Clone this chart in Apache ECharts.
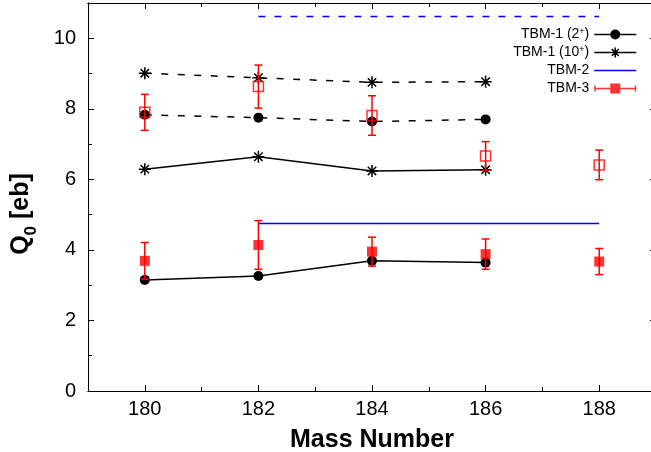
<!DOCTYPE html>
<html>
<head>
<meta charset="utf-8">
<script src="https://cdn.jsdelivr.net/npm/echarts@6/dist/echarts.min.js"></script>
<style>html,body{margin:0;padding:0;background:#fff}#c{width:651px;height:452px}</style>
</head>
<body>
<div id="c"></div>
<script>
// ---- data ----
const massNumbers = [180, 182, 184, 186];
const tbm1_2p_low = [3.15, 3.26, 3.69, 3.64];     // TBM-1 (2+) solid
const tbm1_2p_high = [7.83, 7.75, 7.64, 7.70];    // TBM-1 (2+) dashed
const tbm1_10p_low = [6.29, 6.64, 6.24, 6.27];    // TBM-1 (10+) solid
const tbm1_10p_high = [9.01, 8.88, 8.75, 8.77];   // TBM-1 (10+) dashed
const tbm2Mass = [182, 188];
const tbm2_low = [4.75, 4.75];
const tbm2_high = [10.62, 10.62];
const tbm3Mass = [180, 182, 184, 186, 188];
const tbm3_filled = [3.69, 4.14, 3.95, 3.88, 3.67];
const tbm3_filledErr = [0.52, 0.69, 0.41, 0.43, 0.37];
const tbm3_open = [7.90, 8.63, 7.81, 6.66, 6.41];
const tbm3_openErr = [0.51, 0.61, 0.56, 0.41, 0.42];
const xMajor = [180, 182, 184, 186, 188];
const xMinor = [181, 183, 185, 187];
const yMajor = [0, 2, 4, 6, 8, 10];
const yMinor = [1, 3, 5, 7, 9];

const pair = (xs, ys) => xs.map((x, i) => [x, ys[i]]);
const errData = (xs, ys, es) => xs.map((x, i) => [x, ys[i], ys[i] - es[i], ys[i] + es[i]]);

const FONT = '"Liberation Sans", Arial, Helvetica, sans-serif';
const star = 'path://M0,5H10M5,0V10M1.5,1.5L8.5,8.5M8.5,1.5L1.5,8.5';
const iconCircle = 'path://M0,4.25H16V5.75H0Z M26,4.25H42V5.75H26Z M16,5A5,5 0 1,1 26,5A5,5 0 1,1 16,5Z';
const iconStar = 'path://M0,5H42M15.5,5H26.5M21,0V10M17.5,1.5L24.5,8.5M24.5,1.5L17.5,8.5';
const iconLine = 'path://M0,4.25H42V5.75H0Z M0,0H0.01V10H0Z';
const iconTbm3 = 'path://M0,4.25H42V5.75H0Z M0,2H1.5V8H0Z M40.5,2H42V8H40.5Z M16,0H26V10H16Z';

function errorBar(color) {
  return function (params, api) {
    const x = api.value(0);
    const p1 = api.coord([x, api.value(3)]);
    const p2 = api.coord([x, api.value(2)]);
    const hw = 4;
    const st = { stroke: color, lineWidth: 1.5 };
    return {
      type: 'group',
      children: [
        { type: 'line', shape: { x1: p1[0], y1: p1[1], x2: p2[0], y2: p2[1] }, style: st },
        { type: 'line', shape: { x1: p1[0] - hw, y1: p1[1], x2: p1[0] + hw, y2: p1[1] }, style: st },
        { type: 'line', shape: { x1: p2[0] - hw, y1: p2[1], x2: p2[0] + hw, y2: p2[1] }, style: st }
      ]
    };
  };
}

function xAx(pos, vals, len, labels) {
  return {
    type: 'value', min: 179, max: 189, position: pos,
    axisLine: { show: true, onZero: false, lineStyle: { color: '#000', width: 1 } },
    axisTick: { show: true, inside: true, length: len, customValues: vals, lineStyle: { color: '#000', width: 1 } },
    axisLabel: { show: labels, customValues: vals, color: '#000', fontSize: 20, fontFamily: FONT, margin: 8 },
    splitLine: { show: false }
  };
}
function yAx(pos, vals, len, labels) {
  return {
    type: 'value', min: 0, max: 11, position: pos,
    axisLine: { show: true, onZero: false, lineStyle: { color: '#000', width: 1 } },
    axisTick: { show: true, inside: true, length: len, customValues: vals, lineStyle: { color: '#000', width: 1 } },
    axisLabel: { show: labels, customValues: vals, color: '#000', fontSize: 20, fontFamily: FONT, margin: 12 },
    splitLine: { show: false }
  };
}

const xAxes = [xAx('bottom', xMajor, 6, true), xAx('bottom', xMinor, 4, false), xAx('top', xMajor, 6, false), xAx('top', xMinor, 4, false)];
xAxes[0].name = 'Mass Number';
xAxes[0].nameLocation = 'middle';
xAxes[0].nameGap = 37;
xAxes[0].nameTextStyle = { fontSize: 25, fontWeight: 'bold', color: '#000', fontFamily: FONT };

const chart = echarts.init(document.getElementById('c'), null, { renderer: 'canvas' });
chart.setOption({
  animation: false,
  backgroundColor: '#fff',
  grid: { left: 88, top: 3, width: 568, height: 388, containLabel: false, outerBoundsMode: 'none' },
  xAxis: xAxes,
  yAxis: [yAx('left', yMajor, 6, true), yAx('left', yMinor, 4, false), yAx('right', yMajor, 6, false), yAx('right', yMinor, 4, false)],
  legend: {
    orient: 'vertical', right: 9, top: 22, align: 'right',
    itemWidth: 42, itemHeight: 10, itemGap: 3,
    textStyle: { fontSize: 14, fontFamily: FONT, color: '#000', lineHeight: 15,
      rich: { sup: { fontSize: 9, fontFamily: FONT, color: '#000', verticalAlign: 'top', lineHeight: 15, padding: [0, 0, 6, 0] } } },
    formatter: function (n) { return n.replace(/\((\d+)\+\)/, '($1{sup|+})'); },
    data: [
      { name: 'TBM-1 (2+)', icon: iconCircle, itemStyle: { color: '#000', borderWidth: 0 } },
      { name: 'TBM-1 (10+)', icon: iconStar, itemStyle: { color: '#000', borderColor: '#000', borderWidth: 1.5 } },
      { name: 'TBM-2', icon: iconLine, itemStyle: { color: '#0000ff', borderWidth: 0 } },
      { name: 'TBM-3', icon: iconTbm3, itemStyle: { color: '#ff0000', borderWidth: 0 } }
    ],
    selectedMode: false
  },
  graphic: [{
    type: 'text', x: 24, y: 214, rotation: Math.PI / 2,
    style: {
      text: '{q|Q}{sub|0}{q| [eb]}', align: 'center', verticalAlign: 'middle',
      rich: {
        q: { fontSize: 25, fontWeight: 'bold', fontFamily: FONT, fill: '#000', lineHeight: 31, verticalAlign: 'top' },
        sub: { fontSize: 17, fontWeight: 'bold', fontFamily: FONT, fill: '#000', lineHeight: 31, verticalAlign: 'bottom' }
      }
    }
  }],
  series: [
    { name: 'TBM-1 (2+)', type: 'line', data: pair(massNumbers, tbm1_2p_low), symbol: 'circle', symbolSize: 10,
      itemStyle: { color: '#000' }, lineStyle: { color: '#000', width: 1.5 }, z: 3 },
    { name: 'TBM-1 (2+)', type: 'line', data: pair(massNumbers, tbm1_2p_high), symbol: 'circle', symbolSize: 10,
      itemStyle: { color: '#000' }, lineStyle: { color: '#000', width: 1.5, type: [7, 9.5] }, z: 3 },
    { name: 'TBM-1 (10+)', type: 'line', data: pair(massNumbers, tbm1_10p_low), symbol: star, symbolSize: 12,
      itemStyle: { color: '#000', borderColor: '#000', borderWidth: 1.5 }, lineStyle: { color: '#000', width: 1.5 }, z: 3 },
    { name: 'TBM-1 (10+)', type: 'line', data: pair(massNumbers, tbm1_10p_high), symbol: star, symbolSize: 12,
      itemStyle: { color: '#000', borderColor: '#000', borderWidth: 1.5 }, lineStyle: { color: '#000', width: 1.5, type: [7, 9.5] }, z: 3 },
    { name: 'TBM-2', type: 'line', data: pair(tbm2Mass, tbm2_low), symbol: 'none',
      lineStyle: { color: '#0000ff', width: 1.5 }, itemStyle: { color: '#0000ff' }, z: 2 },
    { name: 'TBM-2', type: 'line', data: pair(tbm2Mass, tbm2_high), symbol: 'none',
      lineStyle: { color: '#0000ff', width: 1.5, type: [7, 9] }, itemStyle: { color: '#0000ff' }, z: 2 },
    { name: 'TBM-3', type: 'scatter', data: pair(tbm3Mass, tbm3_filled), symbol: 'rect', symbolSize: 10,
      itemStyle: { color: '#ff0000' }, z: 5 },
    { name: 'TBM-3', type: 'scatter', data: pair(tbm3Mass, tbm3_open), symbol: 'rect', symbolSize: 10,
      itemStyle: { color: 'rgba(0,0,0,0)', borderColor: '#ff0000', borderWidth: 1.5 }, z: 5 },
    { name: 'TBM-3', type: 'custom', data: errData(tbm3Mass, tbm3_filled, tbm3_filledErr), renderItem: errorBar('#ff0000'), z: 4 },
    { name: 'TBM-3', type: 'custom', data: errData(tbm3Mass, tbm3_open, tbm3_openErr), renderItem: errorBar('#ff0000'), z: 4 }
  ]
});
</script>
</body>
</html>
